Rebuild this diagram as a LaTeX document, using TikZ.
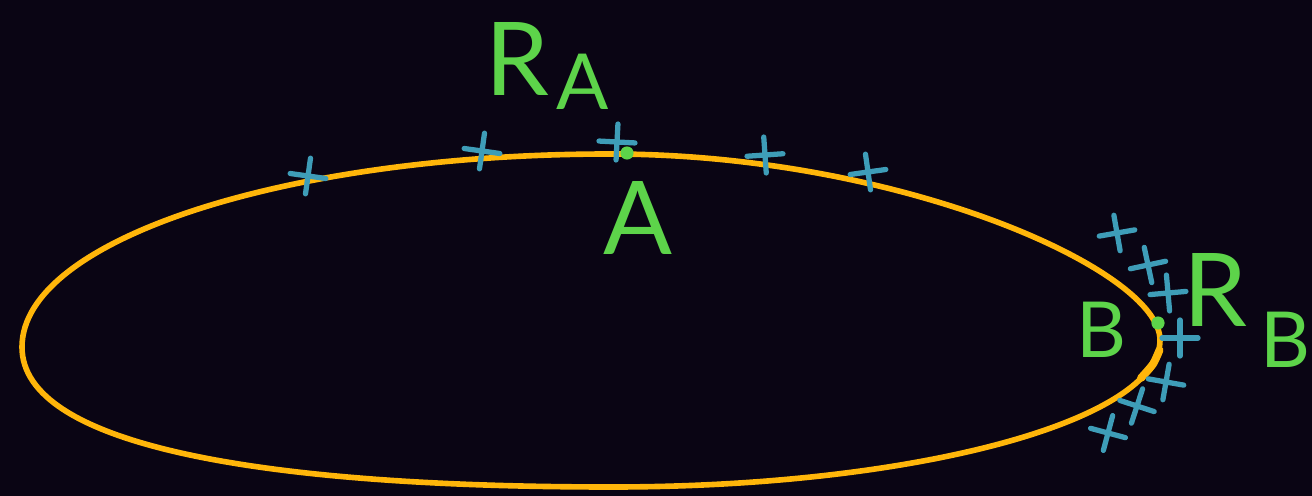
\documentclass[tikz,border=0pt]{standalone}
\usetikzlibrary{positioning}
\usepackage{fontspec}
\setmainfont{Lato}
\usepackage{xcolor}
\definecolor{bgdark}{HTML}{0A0514}
\definecolor{orbit}{HTML}{FFB60A}
\definecolor{tickblue}{HTML}{3E9DB8}
\definecolor{labgreen}{HTML}{5DD44A}

\begin{document}
\begin{tikzpicture}[x=0.02cm,y=-0.02cm,
  lab/.style={text=labgreen,inner sep=0pt,font=\fontsize{58}{60}\selectfont},
  labsm/.style={lab,font=\fontsize{44}{46}\selectfont},
  dot/.style={circle,fill=labgreen,inner sep=0pt,minimum size=7.5pt},
  plus/.pic={\draw[tickblue,line width=3pt,line cap=round]
    (-18,0)--(18,0) (0,-18)--(0,18);}
]
  \fill[bgdark] (0,0) rectangle (1312,496);
  \useasboundingbox (0,0) rectangle (1312,496);
  % orbit
  \coordinate (west) at (22,347);
  \coordinate (north) at (610,154);
  \coordinate (east) at (1160,340);
  \coordinate (south) at (612,487);
  \draw[orbit,line width=3.2pt]
    (west) .. controls (22,240) and (285,154) .. (north)
           .. controls (900,154) and (1160,270) .. (east)
           .. controls (1160,421) and (915,487) .. (south)
           .. controls (258,487) and (22,445) .. (west) -- cycle;
  \draw[orbit,line width=4.5pt,line cap=round] plot[smooth] coordinates {
    (1159.5,350) (1153,364) (1141,378)};
  % ticks
  \foreach \px/\py/\r in {308/176/-8,482/151/-8,617/142/-3,765/155/4,868/172/8,
    1117/233/10,1148/265/12,1168/293/5,1180/338/0,1166/382/-10,1137/406/-18,
    1108/433/-15}
    \pic[rotate=\r] at (\px,\py) {plus};
  % points
  \node[dot] (A) at (627,153) {};
  \node[dot] (B) at (1158,323) {};
  % labels
  \node[lab] (RA) at (517,59) {R};
  \node[labsm] (RAsub) at (583,82) {A};
  \node[lab,below=12pt of A,xshift=6pt] (Alab) {A};
  \node[labsm,left=14pt of B,yshift=-4pt] (Blab) {B};
  \node[lab] (RB) at (1215,290) {R};
  \node[labsm] (RBsub) at (1285,340) {B};
\end{tikzpicture}
\end{document}
